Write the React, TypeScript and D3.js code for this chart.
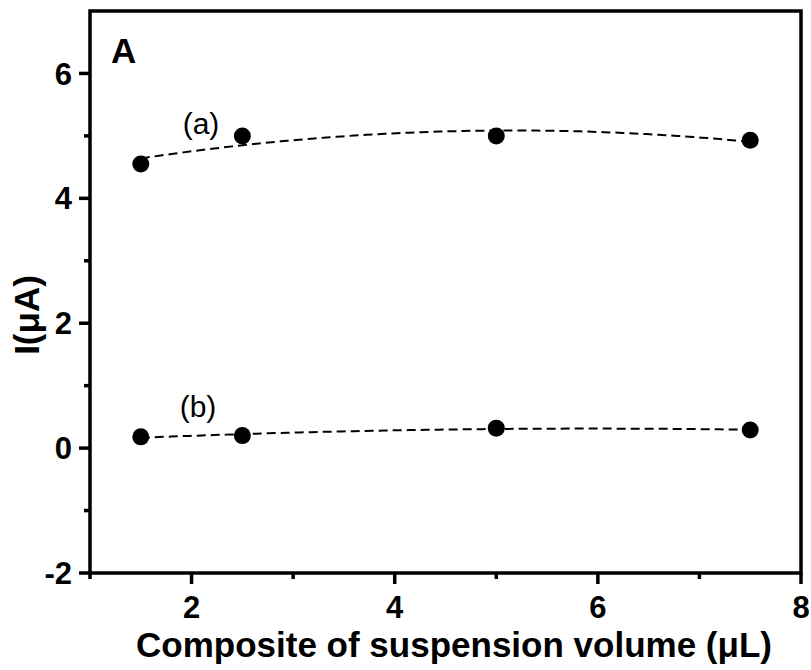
import React from "react";
import * as d3 from "d3";

const volumes = [1.5, 2.5, 5, 7.5];
const seriesA = [4.55, 5.0, 5.0, 4.93];
const seriesB = [0.18, 0.2, 0.32, 0.29];
const seriesLabels = ["(a)", "(b)"];
const xTicks = [2, 4, 6, 8];
const xMinor = [3, 5, 7];
const yTicks = [-2, 0, 2, 4, 6];
const yMinor = [-1, 1, 3, 5];

function quadFit(xs: number[], ys: number[]) {
  // least squares y = a + b x + c x^2
  const n = xs.length;
  const s = [0, 0, 0, 0, 0];
  const t = [0, 0, 0];
  for (let i = 0; i < n; i++) {
    const xv = xs[i];
    for (let k = 0; k < 5; k++) s[k] += Math.pow(xv, k);
    for (let k = 0; k < 3; k++) t[k] += ys[i] * Math.pow(xv, k);
  }
  const M = [
    [s[0], s[1], s[2], t[0]],
    [s[1], s[2], s[3], t[1]],
    [s[2], s[3], s[4], t[2]],
  ];
  for (let i = 0; i < 3; i++) {
    let p = i;
    for (let r = i + 1; r < 3; r++) if (Math.abs(M[r][i]) > Math.abs(M[p][i])) p = r;
    [M[i], M[p]] = [M[p], M[i]];
    for (let r = 0; r < 3; r++) {
      if (r === i) continue;
      const f = M[r][i] / M[i][i];
      for (let c = i; c < 4; c++) M[r][c] -= f * M[i][c];
    }
  }
  const coef = [M[0][3] / M[0][0], M[1][3] / M[1][1], M[2][3] / M[2][2]];
  return (xv: number) => coef[0] + coef[1] * xv + coef[2] * xv * xv;
}

export default function App() {
  const W = 811, H = 670;
  const left = 90, right = 801, top = 11, bottom = 573;
  const x = d3.scaleLinear().domain([1, 8]).range([left, right]);
  const y = d3.scaleLinear().domain([-2, 7]).range([bottom, top]);
  const font = "Liberation Sans, Arial, sans-serif";

  const series = [seriesA, seriesB];
  const fitPaths = series.map((s) => {
    const f = quadFit(volumes, s);
    const pts = d3.range(0, 101).map((i) => {
      const xv = 1.5 + (6 * i) / 100;
      return [xv, f(xv)] as [number, number];
    });
    return d3
      .line<[number, number]>()
      .x((d) => x(d[0]))
      .y((d) => y(d[1]))(pts) as string;
  });

  return (
    <svg width={W} height={H} style={{ position: "absolute", left: 0, top: 0, background: "#fff" }}>
      {/* frame */}
      <rect x={left} y={top} width={right - left} height={bottom - top} fill="none" stroke="#000" strokeWidth={3.5} />
      {/* y ticks */}
      {yTicks.map((v) => (
        <g key={"yt" + v}>
          <line x1={left - 11} x2={left} y1={y(v)} y2={y(v)} stroke="#000" strokeWidth={3.5} />
          <text x={left - 18} y={y(v)} dy="0.36em" textAnchor="end" fontFamily={font} fontWeight="bold" fontSize={31}>
            {v}
          </text>
        </g>
      ))}
      {yMinor.map((v) => (
        <line key={"ym" + v} x1={left - 6} x2={left} y1={y(v)} y2={y(v)} stroke="#000" strokeWidth={3.5} />
      ))}
      {/* x ticks */}
      {xTicks.map((v) => (
        <g key={"xt" + v}>
          <line x1={x(v)} x2={x(v)} y1={bottom} y2={bottom + 11} stroke="#000" strokeWidth={3.5} />
          <text x={x(v)} y={618} textAnchor="middle" fontFamily={font} fontWeight="bold" fontSize={31}>
            {v}
          </text>
        </g>
      ))}
      {xMinor.map((v) => (
        <line key={"xm" + v} x1={x(v)} x2={x(v)} y1={bottom} y2={bottom + 6} stroke="#000" strokeWidth={3.5} />
      ))}
      <line x1={x(1)} x2={x(1)} y1={bottom} y2={bottom + 6} stroke="#000" strokeWidth={3.5} />
      {/* titles */}
      <text x={454} y={657} textAnchor="middle" fontFamily={font} fontWeight="bold" fontSize={35}>
        Composite of suspension volume (μL)
      </text>
      <text
        transform={`translate(39,315) rotate(-90)`}
        textAnchor="middle"
        fontFamily={font}
        fontWeight="bold"
        fontSize={35}
      >
        I(μA)
      </text>
      <text x={111} y={63} fontFamily={font} fontWeight="bold" fontSize={35}>
        A
      </text>
      {/* fits */}
      {fitPaths.map((p, i) => (
        <path key={"f" + i} d={p} fill="none" stroke="#000" strokeWidth={2} strokeDasharray="9,5" />
      ))}
      {/* points */}
      {series.map((s, si) =>
        s.map((v, i) => <circle key={"p" + si + "-" + i} cx={x(volumes[i])} cy={y(v)} r={8.5} fill="#000" />)
      )}
      {/* labels */}
      <text x={201} y={134} textAnchor="middle" fontFamily={font} fontSize={30}>
        {seriesLabels[0]}
      </text>
      <text x={198} y={417} textAnchor="middle" fontFamily={font} fontSize={30}>
        {seriesLabels[1]}
      </text>
    </svg>
  );
}
